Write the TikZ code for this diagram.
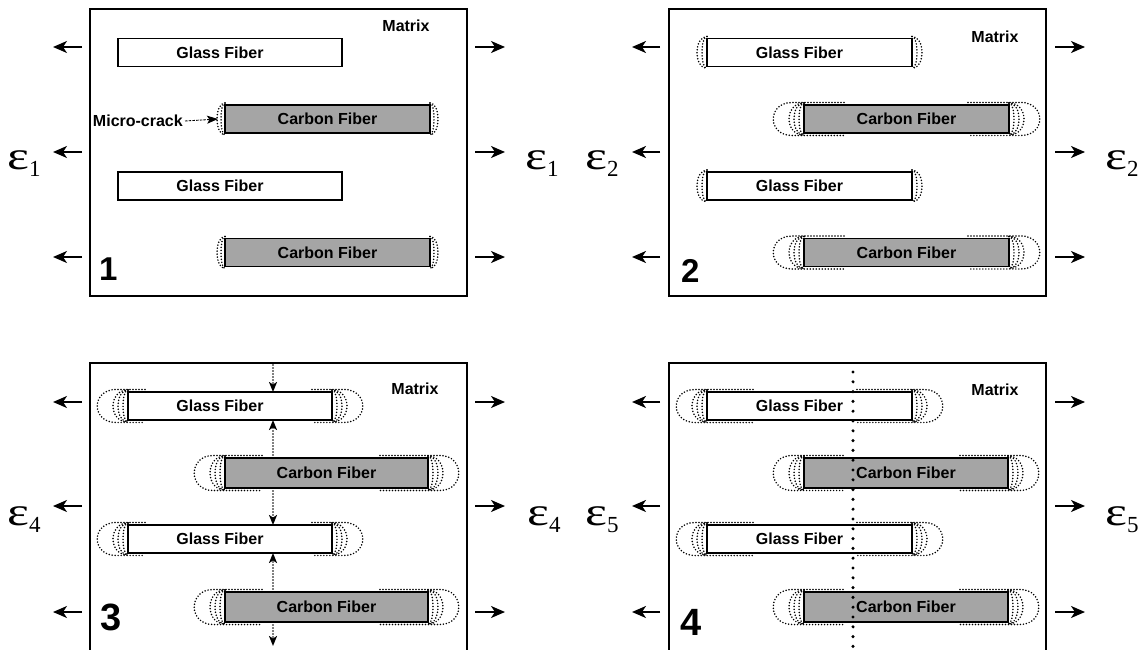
\documentclass[tikz,border=0pt]{standalone}
\usepackage{fontspec}
\setmainfont{Liberation Sans}
\newfontfamily\serifeps{Liberation Serif}
\usetikzlibrary{arrows.meta,backgrounds,calc}
\definecolor{carbongray}{RGB}{165,165,165}
\tikzset{
 panel/.style={draw, line width=1.4pt, minimum width=377pt, outer sep=0pt, inner sep=0pt},
 fib/.style={draw, line width=1.6pt, outer sep=0pt, inner sep=0pt, minimum height=28pt},
 glass/.style={fib, fill=white},
 carbon/.style={fib, fill=carbongray},
 lbl/.style={font=\bfseries\fontsize{16}{16}\selectfont, inner sep=0pt},
 bignum/.style={font=\bfseries\fontsize{#1}{#1}\selectfont, inner sep=0pt, anchor=base west},
 epslbl/.style={inner sep=0pt, anchor=base west},
 crack/.style={line width=1.7pt, line cap=round, dash pattern=on 0pt off 3pt},
 pull/.style={line width=2pt, -{Stealth[length=14pt,width=12pt,inset=4pt]}},
 flow/.style={line width=1.7pt, line cap=round, dash pattern=on 0pt off 3pt, -{Stealth[length=10pt,width=8pt,inset=2.5pt]}},
 cutline/.style={line width=3.4pt, line cap=round, dash pattern=on 0pt off 9.8pt},
 mcarrow/.style={line width=0.9pt, dash pattern=on 2.5pt off 1.2pt, -{Stealth[length=11pt,width=8pt,inset=2.5pt]}}
}
\newcommand\epslab[1]{{\serifeps\fontsize{40}{40}\selectfont \scalebox{1.3}[1]{ε}\raisebox{-7pt}{\fontsize{23}{23}\selectfont #1}}}
% small end arcs
\newcommand\arcsL[2]{\foreach \rr in {#2} {\draw[crack] ([yshift=2pt]#1.north west) .. controls ([xshift=-1.33*\rr pt,yshift=2pt]#1.north west) and ([xshift=-1.33*\rr pt,yshift=-2pt]#1.south west) .. ([yshift=-2pt]#1.south west);}}
\newcommand\arcsR[2]{\foreach \rr in {#2} {\draw[crack] ([yshift=2pt]#1.north east) .. controls ([xshift=1.33*\rr pt,yshift=2pt]#1.north east) and ([xshift=1.33*\rr pt,yshift=-2pt]#1.south east) .. ([yshift=-2pt]#1.south east);}}
% big debond caps
\newcommand\bigL[2]{\draw[crack] ([xshift=#2pt,yshift=2.5pt]#1.north west) -- ([xshift=-12pt,yshift=2.5pt]#1.north west) .. controls ([xshift=-37pt,yshift=2.5pt]#1.north west) and ([xshift=-37pt,yshift=-2.5pt]#1.south west) .. ([xshift=-12pt,yshift=-2.5pt]#1.south west) -- ([xshift=#2pt,yshift=-2.5pt]#1.south west);}
\newcommand\bigR[2]{\draw[crack] ([xshift=-#2pt,yshift=2.5pt]#1.north east) -- ([xshift=12pt,yshift=2.5pt]#1.north east) .. controls ([xshift=37pt,yshift=2.5pt]#1.north east) and ([xshift=37pt,yshift=-2.5pt]#1.south east) .. ([xshift=12pt,yshift=-2.5pt]#1.south east) -- ([xshift=-#2pt,yshift=-2.5pt]#1.south east);}
\begin{document}
\begin{tikzpicture}[x=1pt,y=-1pt]
\useasboundingbox (0,0) rectangle (1144,650);
\clip (0,0) rectangle (1144,650);
% panels
\node[panel, minimum height=287pt] (P1) at (278.5,152.5) {};
\node[panel, minimum height=287pt] (P2) at (857.5,152.5) {};
\node[panel, minimum height=297pt] (P3) at (278.5,511.5) {};
\node[panel, minimum height=297pt] (P4) at (857.5,511.5) {};
% fibers panel 1
\node[glass, minimum width=224pt] (p1g1) at (230,52.5) {};
\node[carbon, minimum width=205pt] (p1c1) at (327.5,119) {};
\node[glass, minimum width=224pt] (p1g2) at (230,186) {};
\node[carbon, minimum width=205pt] (p1c2) at (327.5,252.5) {};
% fibers panel 2
\node[glass, minimum width=205pt] (p2g1) at (809.5,52.5) {};
\node[carbon, minimum width=205pt] (p2c1) at (906.5,119) {};
\node[glass, minimum width=205pt] (p2g2) at (809.5,186) {};
\node[carbon, minimum width=205pt] (p2c2) at (906.5,252.5) {};
% fibers panel 3
\node[glass, minimum width=204pt] (p3g1) at (230,406) {};
\node[carbon, minimum width=203pt, minimum height=30pt] (p3c1) at (326.5,473) {};
\node[glass, minimum width=204pt] (p3g2) at (230,539) {};
\node[carbon, minimum width=203pt, minimum height=30pt] (p3c2) at (326.5,607) {};
% fibers panel 4
\node[glass, minimum width=205pt] (p4g1) at (809.5,406) {};
\node[carbon, minimum width=204pt, minimum height=30pt] (p4c1) at (906,473) {};
\node[glass, minimum width=205pt] (p4g2) at (809.5,539) {};
\node[carbon, minimum width=204pt, minimum height=30pt] (p4c2) at (906,607) {};
% cracks (behind fibers)
\begin{pgfonlayer}{background}
 \foreach \f in {p1c1,p1c2} {\arcsL{\f}{4,8}\arcsR{\f}{4,8}}
 \foreach \f in {p2g1,p2g2} {\arcsL{\f}{5,10}\arcsR{\f}{5,10}}
 \foreach \f in {p2c1,p2c2} {\bigL{\f}{40}\bigR{\f}{41}\arcsL{\f}{5,10,15}\arcsR{\f}{5,10,15}}
 \foreach \f in {p3g1,p3g2} {\bigL{\f}{17}\bigR{\f}{20}\arcsL{\f}{5,10,15}\arcsR{\f}{5,10,15}}
 \foreach \f in {p3c1,p3c2} {\bigL{\f}{37}\bigR{\f}{48}\arcsL{\f}{5,10,15}\arcsR{\f}{5,10,15}}
 \foreach \f in {p4g1,p4g2} {\bigL{\f}{46}\bigR{\f}{55}\arcsL{\f}{5,10,15}\arcsR{\f}{5,10,15}}
 \foreach \f in {p4c1,p4c2} {\bigL{\f}{39}\bigR{\f}{48}\arcsL{\f}{5,10,15}\arcsR{\f}{5,10,15}}
\end{pgfonlayer}
% fiber labels
\foreach \f in {p1g1,p1g2,p2g1,p2g2,p3g1,p3g2,p4g1,p4g2} {\node[lbl] (\f t) at ([xshift=-10pt]\f.center) {Glass Fiber};}
\foreach \f in {p1c1,p1c2,p2c1,p2c2,p3c1,p3c2,p4c1,p4c2} {\node[lbl] (\f t) at (\f.center) {Carbon Fiber};}
% matrix labels
\node[lbl] (m1) at (406,26) {Matrix};
\node[lbl] (m2) at (995,37) {Matrix};
\node[lbl] (m3) at (415,389) {Matrix};
\node[lbl] (m4) at (995,390) {Matrix};
% stage numbers
\node[bignum=33] (n1) at (99,280) {1};
\node[bignum=33] (n2) at (681,282) {2};
\node[bignum=38] (n3) at (100,630) {3};
\node[bignum=38] (n4) at (680,635) {4};
% micro-crack callout
\node[lbl, anchor=east] (mc) at (183,121) {Micro-crack};
\coordinate (mctip) at ([xshift=-7pt]p1c1.west);
\draw[mcarrow] ([xshift=2pt]mc.east) -- (mctip);
% load arrows
\foreach \y/\n in {47/a,152/b,257/c,402/d,506/e,612/f} {
 \coordinate (la\n) at (82,\y); \coordinate (lb\n) at (53,\y);
 \coordinate (ra\n) at (475,\y); \coordinate (rb\n) at (505,\y);
 \coordinate (sa\n) at (660,\y); \coordinate (sb\n) at (632,\y);
 \coordinate (ta\n) at (1055,\y); \coordinate (tb\n) at (1085,\y);
 \draw[pull] (la\n) -- (lb\n);
 \draw[pull] (ra\n) -- (rb\n);
 \draw[pull] (sa\n) -- (sb\n);
 \draw[pull] (ta\n) -- (tb\n);
}
% strain labels
\node[epslbl] (e1l) at (7,170) {\epslab{1}};
\node[epslbl] (e1r) at (525,170) {\epslab{1}};
\node[epslbl] (e2l) at (585,170) {\epslab{2}};
\node[epslbl] (e2r) at (1105,170) {\epslab{2}};
\node[epslbl] (e4l) at (7,525) {\epslab{4}};
\node[epslbl] (e4r) at (527,525) {\epslab{4}};
\node[epslbl] (e5l) at (585,525) {\epslab{5}};
\node[epslbl] (e5r) at (1105,525) {\epslab{5}};
% stress transfer arrows, panel 3
\coordinate (ax) at (273,0);
\coordinate (p3top) at (273,365);
\coordinate (p3bot) at (273,646);
\draw[flow] (p3top) -- (p3g1.north -| ax);
\draw[flow] (p3c1.north -| ax) -- (p3g1.south -| ax);
\draw[flow] (p3c1.south -| ax) -- (p3g2.north -| ax);
\draw[flow] (p3c2.north -| ax) -- (p3g2.south -| ax);
\draw[flow] (p3c2.south -| ax) -- (p3bot);
% fracture line, panel 4
\coordinate (ftop) at (853,372);
\coordinate (fbot) at (853,660);
\draw[cutline] (ftop) -- (fbot);
\end{tikzpicture}
\end{document}
